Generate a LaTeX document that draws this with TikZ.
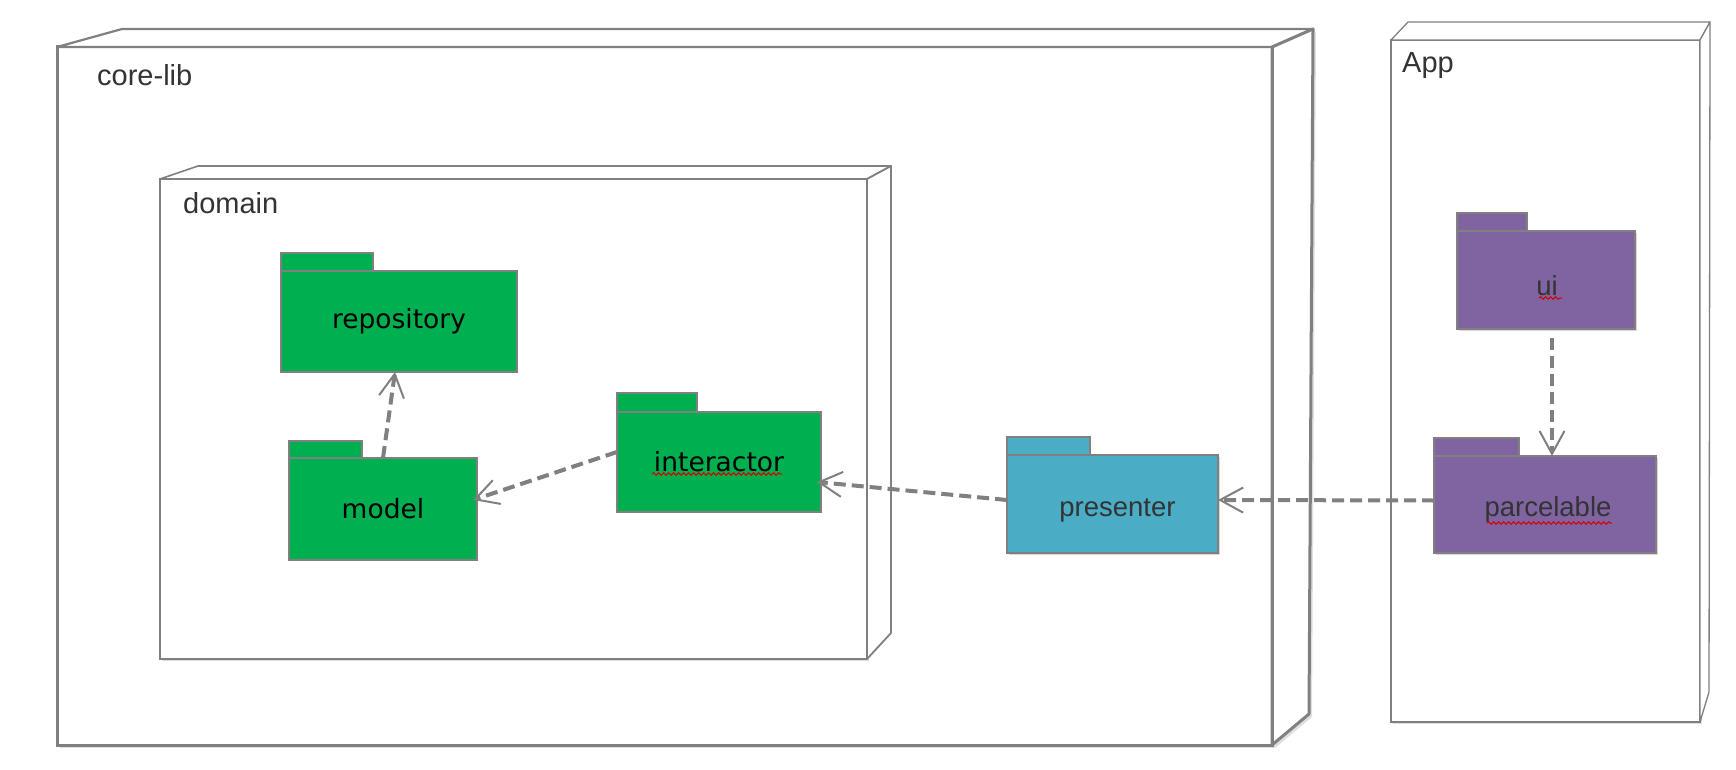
\documentclass[tikz,border=0pt]{standalone}
\usepackage{fontspec}
\setmainfont{Liberation Sans}
\newfontfamily\dvfont{DejaVu Sans}
\usetikzlibrary{arrows.meta,decorations.pathmorphing,shadows}
\definecolor{pkggreen}{RGB}{0,175,80}
\definecolor{pkgteal}{RGB}{75,172,198}
\definecolor{pkgpurple}{RGB}{128,100,162}
\definecolor{edgegray}{RGB}{128,128,128}
\definecolor{labelgray}{RGB}{51,51,51}
\begin{document}
\begin{tikzpicture}[x=1pt,y=-1pt,
  pkgbody/.style={draw=edgegray,line width=1.2pt,anchor=north west,inner sep=0pt,outer sep=0pt},
  greenpkg/.style={pkgbody,fill=pkggreen,font=\dvfont\fontsize{26.5}{30}\selectfont,text=black},
  tealpkg/.style={pkgbody,fill=pkgteal,drop shadow={shadow xshift=2pt,shadow yshift=-2pt,opacity=0.3}},
  purplepkg/.style={pkgbody,fill=pkgpurple,drop shadow={shadow xshift=2pt,shadow yshift=-2pt,opacity=0.3}},
  pkglabel/.style={inner sep=0pt,font=\fontsize{27.5}{32}\selectfont,text=labelgray},
  pkgtab/.style={draw=edgegray,line width=1.2pt},
  dep/.style={draw=edgegray,line width=4pt,dash pattern=on 12pt off 6pt,
     -{Straight Barb[length=23pt,width=25pt,line width=2pt]}},
  frontface/.style={draw=edgegray,fill=white,anchor=north west,inner sep=0pt,outer sep=0pt},
  depthface/.style={draw=edgegray,fill=white,line join=round},
  ctitle/.style={anchor=base west,inner sep=0pt,font=\fontsize{29}{34}\selectfont,text=labelgray},
  spell/.style={draw=red!85!black,line width=1pt,decorate,decoration={snake,segment length=5pt,amplitude=1.3pt}}
]
\useasboundingbox (0,0) rectangle (1736,770);

% ---------- core-lib ----------
\coordinate (cl-btl) at (122,29);
\coordinate (cl-btr) at (1313,29);
\coordinate (cl-bbr) at (1309,714);
\node[frontface,line width=3pt,minimum width=1215pt,minimum height=698pt,
  drop shadow={shadow xshift=3pt,shadow yshift=-3pt,opacity=0.25}] (corelib) at (57,47) {};
\path[depthface,line width=2.2pt] (corelib.north west) -- (cl-btl) -- (cl-btr) -- (corelib.north east) -- cycle;
\path[depthface,line width=3pt,drop shadow={shadow xshift=3pt,shadow yshift=-3pt,opacity=0.25}]
  (corelib.north east) -- (cl-btr) -- (cl-bbr) -- (corelib.south east) -- cycle;
\draw[edgegray,line width=3pt] (corelib.north east) -- (corelib.south east);
\node[ctitle] (corelibtitle) at (97,86) {core-lib};

% ---------- domain ----------
\coordinate (dm-btl) at (198,166);
\coordinate (dm-btr) at (891,166);
\coordinate (dm-bbr) at (891,633);
\node[frontface,line width=1.8pt,minimum width=707pt,minimum height=480pt,
  drop shadow={shadow xshift=2pt,shadow yshift=-2pt,opacity=0.25}] (domain) at (160,179) {};
\path[depthface,line width=1.6pt] (domain.north west) -- (dm-btl) -- (dm-btr) -- (domain.north east) -- cycle;
\path[depthface,line width=1.8pt] (domain.north east) -- (dm-btr) -- (dm-bbr) -- (domain.south east) -- cycle;
\node[ctitle] (domaintitle) at (183,213) {domain};

% ---------- App ----------
\coordinate (ap-btl) at (1408,22);
\coordinate (ap-btr) at (1710,22);
\coordinate (ap-bbr) at (1709,692);
\node[frontface,line width=1.3pt,minimum width=309pt,minimum height=682pt,
  drop shadow={shadow xshift=2pt,shadow yshift=-2pt,opacity=0.25}] (app) at (1391,40) {};
\path[depthface,line width=1.3pt] (app.north west) -- (ap-btl) -- (ap-btr) -- (app.north east) -- cycle;
\path[depthface,line width=1.3pt] (app.north east) -- (ap-btr) -- (ap-bbr) -- (app.south east) -- cycle;
\node[ctitle] (apptitle) at (1402,73) {App};

% ---------- packages ----------
\node[greenpkg,minimum width=236pt,minimum height=101pt] (repo) at (281,271) {repository};
\draw[pkgtab,fill=pkggreen] (repo.north west) rectangle ++(92,-18);

\node[greenpkg,minimum width=188pt,minimum height=102pt] (model) at (289,458) {model};
\draw[pkgtab,fill=pkggreen] (model.north west) rectangle ++(73,-17);

\node[greenpkg,minimum width=204pt,minimum height=100pt] (interactor) at (617,412) {interactor};
\draw[pkgtab,fill=pkggreen] (interactor.north west) rectangle ++(80,-19);

\node[tealpkg,minimum width=211pt,minimum height=98pt] (presenter) at (1007,455) {};
\draw[pkgtab,fill=pkgteal] (presenter.north west) rectangle ++(83,-18);
\node[pkglabel] (presenterlbl) at ([xshift=5pt,yshift=-6pt]presenter.center) {presenter};

\node[purplepkg,minimum width=222pt,minimum height=97pt] (parcelable) at (1434,456) {};
\draw[pkgtab,fill=pkgpurple] (parcelable.north west) rectangle ++(85,-18);
\node[pkglabel] (parcelablelbl) at ([xshift=3pt,yshift=-5pt]parcelable.center) {parcelable};

\node[purplepkg,minimum width=178pt,minimum height=98pt] (ui) at (1457,231) {};
\draw[pkgtab,fill=pkgpurple] (ui.north west) rectangle ++(70,-18);
\node[pkglabel] (uilbl) at ([xshift=1pt,yshift=-6pt]ui.center) {ui};

% spell-check underlines
\draw[spell] (652,474) -- (782,474);
\draw[spell] (1487,523) -- (1612,523);
\draw[spell] (1539,298) -- (1562,298);

% ---------- dependencies ----------
\draw[dep] (model.north) -- ([xshift=-4pt]repo.south);
\draw[dep] ([yshift=10pt]interactor.west) -- ([xshift=-4pt,yshift=9pt]model.east);
\draw[dep] ([yshift=4pt]presenter.west) -- ([xshift=-4pt,yshift=-20pt]interactor.east);
\draw[dep] ([yshift=4pt]parcelable.west) -- ([yshift=4pt]presenter.east);
\draw[dep] ([xshift=6pt,yshift=-9pt]ui.south) -- ([xshift=7pt]parcelable.north);
\end{tikzpicture}
\end{document}
